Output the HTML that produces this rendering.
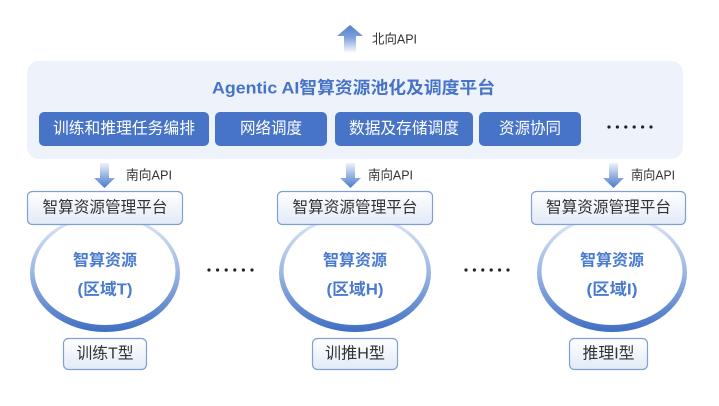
<!DOCTYPE html>
<html><head><meta charset="utf-8"><style>
html,body{margin:0;padding:0;background:#fff;}
svg{display:block;}
text{font-family:"Liberation Sans","Noto Sans CJK SC",sans-serif;}
</style></head><body>
<svg width="719" height="406" viewBox="0 0 719 406" xmlns="http://www.w3.org/2000/svg">
<defs>
<linearGradient id="upA" x1="0" y1="0" x2="0" y2="1">
<stop offset="0" stop-color="#4f7fcc"/><stop offset="0.45" stop-color="#7fa1da"/><stop offset="1" stop-color="#ffffff"/>
</linearGradient>
<linearGradient id="dnA" x1="0" y1="0" x2="0" y2="1">
<stop offset="0" stop-color="#eef3fb"/><stop offset="0.55" stop-color="#8eaee0"/><stop offset="1" stop-color="#4b7bcc"/>
</linearGradient>
<linearGradient id="boxG" x1="0" y1="0" x2="0" y2="1">
<stop offset="0" stop-color="#ffffff"/><stop offset="1" stop-color="#e2eaf7"/>
</linearGradient>
<linearGradient id="ellG" x1="0" y1="0" x2="0" y2="1">
<stop offset="0" stop-color="#e3eaf6"/><stop offset="0.5" stop-color="#9ab6e2"/><stop offset="1" stop-color="#3f6ec4"/>
</linearGradient>
</defs>

<!-- north arrow -->
<polygon points="350,25 363,36 356,36 356,53 344,53 344,36 337,36" fill="url(#upA)"/>
<text x="372" y="39" font-size="13" fill="#333" dominant-baseline="central" textLength="45" lengthAdjust="spacingAndGlyphs">北向API</text>

<!-- platform -->
<rect x="27" y="61" width="656" height="98" rx="12" fill="#edf2fb"/>
<text x="353.5" y="88" font-size="17" font-weight="bold" fill="#4673c6" text-anchor="middle" dominant-baseline="central" textLength="283" lengthAdjust="spacingAndGlyphs">Agentic AI智算资源池化及调度平台</text>

<rect x="39" y="112" width="170" height="34" rx="5" fill="#4774c6"/>
<text x="124" y="129" font-size="16" fill="#fff" text-anchor="middle" dominant-baseline="central" textLength="142" lengthAdjust="spacingAndGlyphs">训练和推理任务编排</text>
<rect x="215" y="112" width="112" height="34" rx="5" fill="#4774c6"/>
<text x="271" y="129" font-size="16" fill="#fff" text-anchor="middle" dominant-baseline="central" textLength="62" lengthAdjust="spacingAndGlyphs">网络调度</text>
<rect x="335" y="112" width="138" height="34" rx="5" fill="#4774c6"/>
<text x="404" y="129" font-size="16" fill="#fff" text-anchor="middle" dominant-baseline="central" textLength="110" lengthAdjust="spacingAndGlyphs">数据及存储调度</text>
<rect x="479" y="112" width="102" height="34" rx="5" fill="#4774c6"/>
<text x="530" y="129" font-size="16" fill="#fff" text-anchor="middle" dominant-baseline="central" textLength="62" lengthAdjust="spacingAndGlyphs">资源协同</text>
<g fill="#222">
<circle cx="609" cy="127" r="1.6"/><circle cx="617.4" cy="127" r="1.6"/><circle cx="625.8" cy="127" r="1.6"/><circle cx="634.2" cy="127" r="1.6"/><circle cx="642.6" cy="127" r="1.6"/><circle cx="651" cy="127" r="1.6"/>
</g>

<!-- south arrows -->
<g fill="url(#dnA)">
<polygon points="100,163 109,163 109,178 115,178 104.5,188 94,178 100,178"/>
<polygon points="346,163 355,163 355,178 361,178 350.5,188 340,178 346,178"/>
<polygon points="609,163 618,163 618,178 624,178 613.5,188 603,178 609,178"/>
</g>
<g font-size="13" fill="#333" dominant-baseline="central">
<text x="126" y="175" textLength="46" lengthAdjust="spacingAndGlyphs">南向API</text>
<text x="368" y="175" textLength="45" lengthAdjust="spacingAndGlyphs">南向API</text>
<text x="631" y="175" textLength="44" lengthAdjust="spacingAndGlyphs">南向API</text>
</g>

<!-- ellipses -->
<g>
<ellipse cx="105" cy="273" rx="75" ry="59" fill="url(#ellG)"/>
<ellipse cx="105" cy="271" rx="70.5" ry="54" fill="#fff"/>
<ellipse cx="355" cy="273" rx="76" ry="59" fill="url(#ellG)"/>
<ellipse cx="355" cy="271" rx="71.5" ry="54" fill="#fff"/>
<ellipse cx="612" cy="273" rx="75" ry="59" fill="url(#ellG)"/>
<ellipse cx="612" cy="271" rx="70.5" ry="54" fill="#fff"/>
</g>
<g font-size="16" font-weight="bold" fill="#4a7bd0" text-anchor="middle" dominant-baseline="central">
<text x="105" y="261" textLength="64" lengthAdjust="spacingAndGlyphs">智算资源</text>
<text x="105" y="290" textLength="55" lengthAdjust="spacingAndGlyphs">(区域T)</text>
<text x="355" y="261" textLength="64" lengthAdjust="spacingAndGlyphs">智算资源</text>
<text x="355" y="290" textLength="57" lengthAdjust="spacingAndGlyphs">(区域H)</text>
<text x="612" y="261" textLength="64" lengthAdjust="spacingAndGlyphs">智算资源</text>
<text x="612" y="290" textLength="51" lengthAdjust="spacingAndGlyphs">(区域I)</text>
</g>

<!-- mgmt boxes -->
<g stroke="#7f9fd6" stroke-width="1.2" fill="url(#boxG)">
<rect x="27.5" y="191.5" width="155" height="33" rx="5"/>
<rect x="277.5" y="191.5" width="155" height="33" rx="5"/>
<rect x="531.5" y="191.5" width="154" height="33" rx="5"/>
</g>
<g font-size="16" fill="#333" text-anchor="middle" dominant-baseline="central">
<text x="105" y="208" textLength="125" lengthAdjust="spacingAndGlyphs">智算资源管理平台</text>
<text x="355" y="208" textLength="125" lengthAdjust="spacingAndGlyphs">智算资源管理平台</text>
<text x="608.5" y="208" textLength="125" lengthAdjust="spacingAndGlyphs">智算资源管理平台</text>
</g>

<!-- dots between -->
<g fill="#222">
<circle cx="209" cy="270" r="1.6"/><circle cx="217.6" cy="270" r="1.6"/><circle cx="226.2" cy="270" r="1.6"/><circle cx="234.8" cy="270" r="1.6"/><circle cx="243.4" cy="270" r="1.6"/><circle cx="252" cy="270" r="1.6"/>
<circle cx="466" cy="270" r="1.6"/><circle cx="474.4" cy="270" r="1.6"/><circle cx="482.8" cy="270" r="1.6"/><circle cx="491.2" cy="270" r="1.6"/><circle cx="499.6" cy="270" r="1.6"/><circle cx="508" cy="270" r="1.6"/>
</g>

<!-- bottom boxes -->
<g stroke="#7f9fd6" stroke-width="1.2" fill="url(#boxG)">
<rect x="63.5" y="338.5" width="83" height="31" rx="5"/>
<rect x="312.5" y="338.5" width="85" height="31" rx="5"/>
<rect x="569.5" y="338.5" width="78" height="31" rx="5"/>
</g>
<g font-size="16" fill="#333" text-anchor="middle" dominant-baseline="central">
<text x="105" y="354" textLength="57" lengthAdjust="spacingAndGlyphs">训练T型</text>
<text x="355" y="354" textLength="60" lengthAdjust="spacingAndGlyphs">训推H型</text>
<text x="608.5" y="354" textLength="52" lengthAdjust="spacingAndGlyphs">推理I型</text>
</g>
</svg>
</body></html>
